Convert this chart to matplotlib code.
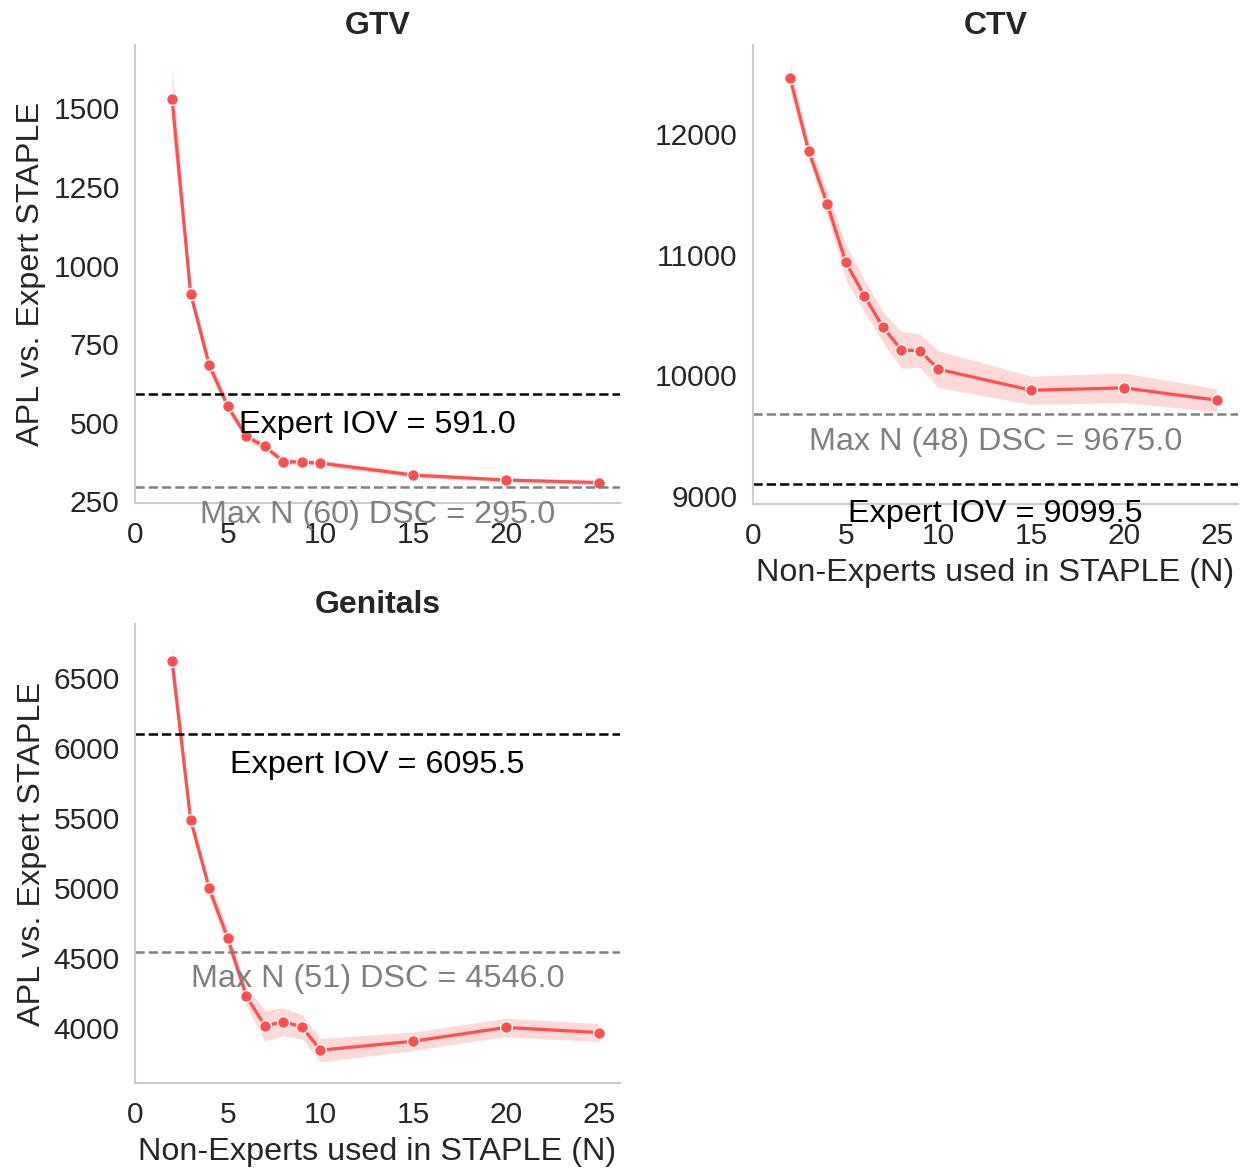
import matplotlib
matplotlib.use("Agg")
import matplotlib.pyplot as plt
import seaborn as sns

# non-experts combined in STAPLE
n_values = [2, 3, 4, 5, 6, 7, 8, 9, 10, 15, 20, 25]

# GTV: mean APL and 95% CI bounds
gtv_mean = [1529, 910, 683, 552, 456, 424, 376, 374, 371, 333, 317, 309]
gtv_lo = [1420, 885, 660, 535, 443, 413, 366, 364, 361, 325, 310, 302]
gtv_hi = [1636, 935, 706, 569, 469, 435, 386, 384, 381, 341, 324, 316]

# CTV
ctv_mean = [12467, 11860, 11422, 10937, 10659, 10399, 10210, 10201, 10049, 9874, 9894, 9792]
ctv_lo = [12359, 11787, 11322, 10791, 10529, 10269, 10057, 10064, 9896, 9757, 9771, 9697]
ctv_hi = [12575, 11933, 11522, 11083, 10789, 10529, 10363, 10338, 10202, 9991, 10017, 9887]

# Genitals
gen_mean = [6618, 5485, 4997, 4641, 4229, 4017, 4045, 4010, 3843, 3907, 4005, 3969]
gen_lo = [6485, 5435, 4942, 4581, 4164, 3907, 3945, 3925, 3760, 3842, 3940, 3904]
gen_hi = [6751, 5535, 5052, 4701, 4294, 4127, 4145, 4095, 3926, 3972, 4070, 4034]

structures = ["GTV", "CTV", "Genitals"]
expert_iov = [591.0, 9099.5, 6095.5]
max_n = [60, 48, 51]
max_n_dsc = [295.0, 9675.0, 4546.0]

gtv_yticks = [250, 500, 750, 1000, 1250, 1500]
ctv_yticks = [9000, 10000, 11000, 12000]
gen_yticks = [4000, 4500, 5000, 5500, 6000, 6500]

sns.set_style("whitegrid")
plt.rcParams["font.family"] = ["Liberation Sans", "DejaVu Sans"]

line_color = "#ff4f4f"

fig = plt.figure(figsize=(12.47, 11.69), dpi=100)
W, H = 1247, 1169
# axes boxes in pixels: left, top, right, bottom
boxes = [(135, 45, 620, 503), (753, 45, 1238, 504), (135, 624, 620, 1083)]
ylims = [(244, 1702), (8930, 12740), (3609, 6882)]
yticks = [gtv_yticks, ctv_yticks, gen_yticks]
means = [gtv_mean, ctv_mean, gen_mean]
lows = [gtv_lo, ctv_lo, gen_lo]
highs = [gtv_hi, ctv_hi, gen_hi]

for i, name in enumerate(structures):
    l, t, r, b = boxes[i]
    ax = fig.add_axes([l / W, 1 - b / H, (r - l) / W, (b - t) / H])
    ax.fill_between(n_values, lows[i], highs[i], color=line_color, alpha=0.22, lw=0)
    ax.plot(n_values, means[i], color=line_color, lw=2.3, marker="o", ms=8.5,
            mec="white", mew=1.0)
    ax.axhline(expert_iov[i], color="black", ls="--", lw=1.8)
    ax.axhline(max_n_dsc[i], color="gray", ls="--", lw=1.8)
    ax.set_xlim(0, 26.15)
    ax.set_ylim(*ylims[i])
    xc = sum(ax.get_xlim()) / 2
    ax.annotate(f"Expert IOV = {expert_iov[i]:.1f}", (xc, expert_iov[i]),
                xytext=(0, -22), textcoords="offset points",
                ha="center", va="center", fontsize=23.3, color="black")
    ax.annotate(f"Max N ({max_n[i]}) DSC = {max_n_dsc[i]:.1f}", (xc, max_n_dsc[i]),
                xytext=(0, -20), textcoords="offset points",
                ha="center", va="center", fontsize=23.3, color="gray")
    ax.grid(False)
    sns.despine(ax=ax)
    for s in ["left", "bottom"]:
        ax.spines[s].set_color("#cccccc")
        ax.spines[s].set_linewidth(1.5)
    ax.set_xticks([0, 5, 10, 15, 20, 25])
    ax.set_yticks(yticks[i])
    ax.tick_params(labelsize=21.5, length=0, colors="#262626")
    ax.tick_params(axis="x", pad=13)
    ax.tick_params(axis="y", pad=11)
    ax.set_title(name, fontsize=23, fontweight="bold", pad=8, color="#262626")
    if i != 1:
        ax.set_ylabel("APL vs. Expert STAPLE", fontsize=23.3, color="#262626", labelpad=5)
    if i != 0:
        ax.set_xlabel("Non-Experts used in STAPLE (N)", fontsize=23.3, color="#262626", labelpad=6)

fig.savefig("out.png", dpi=100)
